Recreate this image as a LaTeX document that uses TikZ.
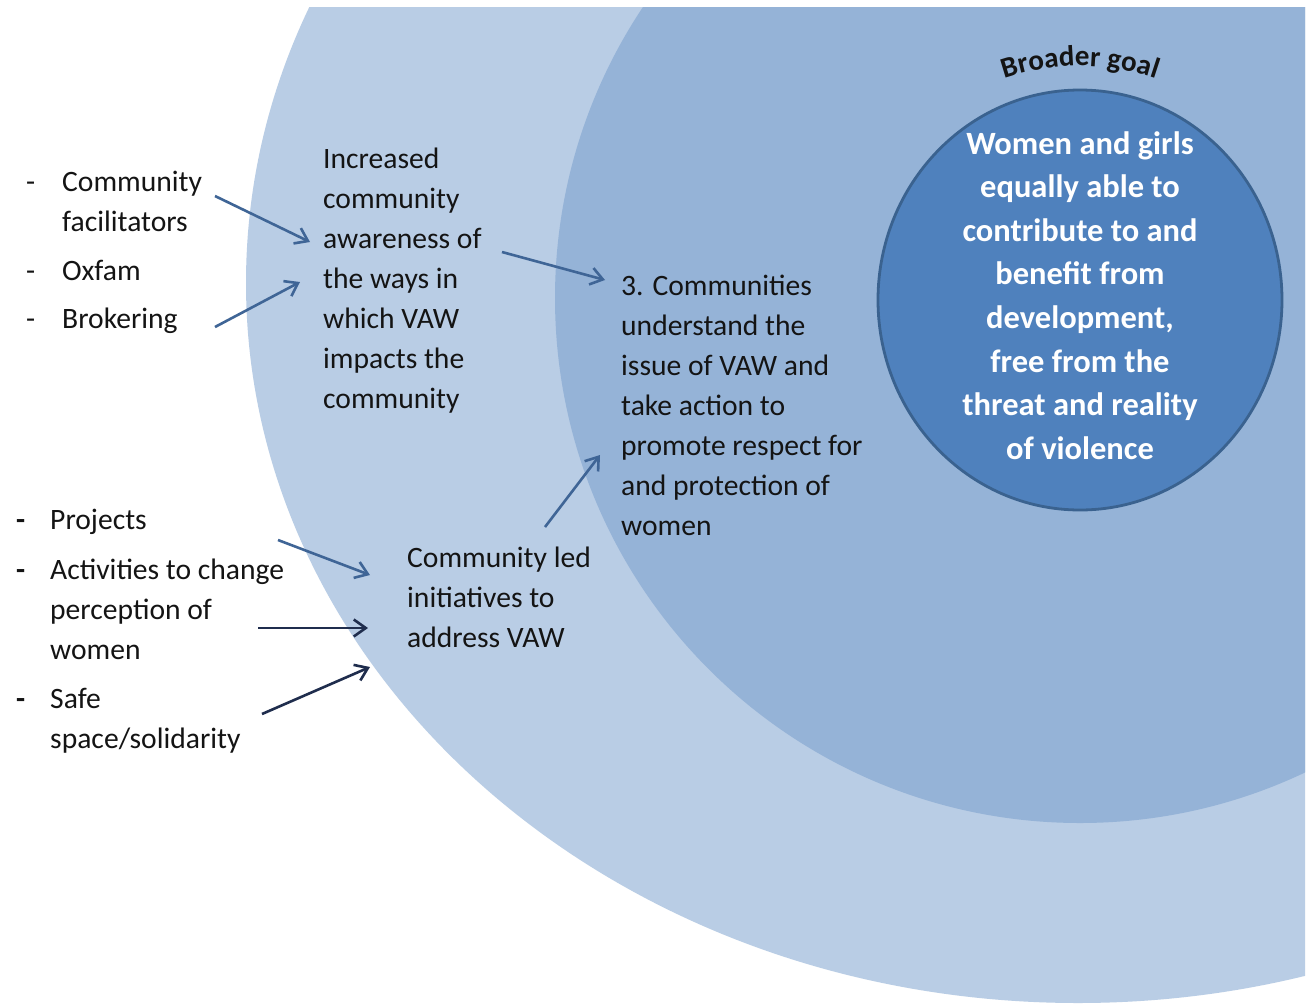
\documentclass[tikz,border=0pt]{standalone}
\usepackage{fontspec}
\setmainfont{Carlito}
\usetikzlibrary{arrows.meta,decorations.text}
\definecolor{outerc}{HTML}{B9CDE5}
\definecolor{midc}{HTML}{95B3D7}
\definecolor{innerc}{HTML}{4F81BD}
\definecolor{innerb}{HTML}{3A628F}
\definecolor{arrblue}{HTML}{3F6596}
\definecolor{arrdark}{HTML}{1F2D4D}
\definecolor{txt}{HTML}{141414}
\begin{document}
\begin{tikzpicture}[x=1pt,y=-1pt,
  txtblock/.style={font=\fontsize{29.6}{40}\selectfont, text=txt, align=left, inner sep=0pt, anchor=west},
  listblock/.style={font=\fontsize{29.6}{40}\selectfont, text=txt, inner sep=0pt, anchor=west},
  goaltext/.style={font=\fontsize{32.5}{43.6}\selectfont\bfseries, text=white, align=center, inner sep=0pt},
  conn/.style={line width=2.6pt, -{Straight Barb[length=12pt,width=17pt,line width=2.6pt]}},
  connb/.style={conn, draw=arrblue},
  connd/.style={conn, draw=arrdark},
]
\useasboundingbox (0,0) rectangle (1307,1007);
\fill[white] (0,0) rectangle (1307,1007);
\begin{scope}
  \clip (0,7) rectangle (1305,1007);
  \fill[outerc] (1078,283) ellipse [x radius=832, y radius=720];
  \fill[midc] (1080,298) circle [radius=525];
\end{scope}
\filldraw[fill=innerc, draw=innerb, line width=2.8pt] (1080,300) ellipse [x radius=202, y radius=210];

\path[decorate, decoration={text along path, text color=txt, text align=center,
  text={|\fontsize{29}{31}\selectfont\bfseries|Broader goal}}]
  (1080,300) ++(245:234) arc[start angle=245, end angle=295, radius=234];

\node[goaltext] (goal) at (1080,295.5) {Women and girls\\equally able to\\contribute to and\\benefit from\\development,\\free from the\\threat and reality\\of violence};

\node[listblock] (list1) at (26,251.5) {\begin{tabular}{@{}p{36pt}@{}l@{}}
- & Community\\ & facilitators\\[9pt]
- & Oxfam\\[8pt]
- & Brokering
\end{tabular}};

\node[listblock] (list2) at (16,630.5) {\begin{tabular}{@{}p{34pt}@{}l@{}}
\textbf{-} & Projects\\[10pt]
\textbf{-} & Activities to change\\ & perception of\\ & women\\[9pt]
\textbf{-} & Safe\\ & space/solidarity
\end{tabular}};

\node[txtblock] (incr) at (323,280.5) {Increased\\community\\awareness of\\the ways in\\which VAW\\impacts the\\community};
\node[txtblock] (comm3) at (621,405) {3. Communities\\understand the\\issue of VAW and\\take action to\\promote respect for\\and protection of\\women};
\node[txtblock] (led) at (407,597) {Community led\\initiatives to\\address VAW};

\coordinate (a1s) at (215,196); \coordinate (a1e) at (310,242);
\coordinate (a2s) at (215,327); \coordinate (a2e) at (300,282);
\coordinate (a3s) at (502,252); \coordinate (a3e) at (605,280);
\coordinate (a4s) at (545,527); \coordinate (a4e) at (600,455);
\coordinate (a5s) at (278,540); \coordinate (a5e) at (370,575);
\coordinate (a6s) at (258,628); \coordinate (a6e) at (368,628);
\coordinate (a7s) at (262,714); \coordinate (a7e) at (370,667);

\draw[connb] (a1s) -- (a1e);
\draw[connb] (a2s) -- (a2e);
\draw[connb] (a3s) -- (a3e);
\draw[connb] (a4s) -- (a4e);
\draw[connb] (a5s) -- (a5e);
\draw[connd] (a6s) -- (a6e);
\draw[connd] (a7s) -- (a7e);
\end{tikzpicture}
\end{document}
